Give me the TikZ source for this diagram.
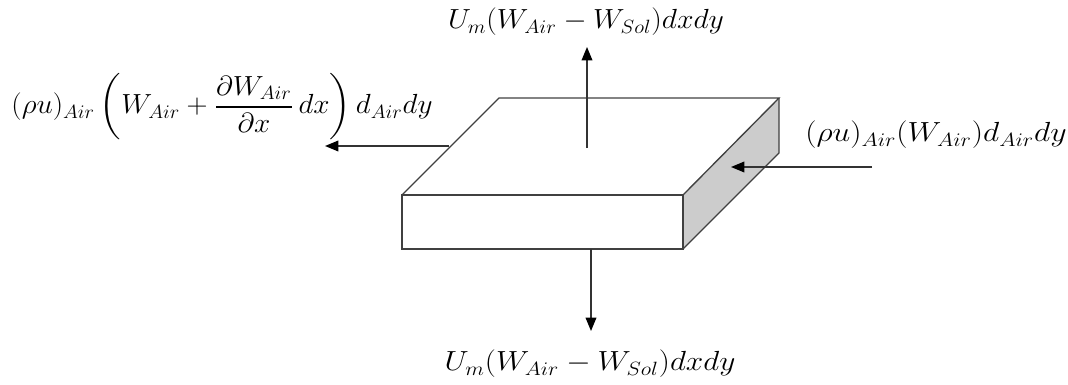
\documentclass[tikz,border=0pt]{standalone}
\usepackage{amsmath}
\usetikzlibrary{arrows.meta}
\tikzset{
 px/.style={x=0.75pt,y=-0.75pt},
 edge/.style={draw=black!75,line width=1pt,line join=miter},
 flow/.style={draw=black!80,line width=1pt,-{Stealth[length=10pt,width=8pt,inset=0pt,color=black]}},
 lab/.style={inner sep=0pt,transform shape,font=\fontsize{17.28}{20}\selectfont}
}
\begin{document}
\begin{tikzpicture}[px]
\useasboundingbox (0,0) rectangle (1068,385);
\coordinate (A) at (402,195);
\coordinate (B) at (683,195);
\coordinate (C) at (683,249);
\coordinate (D) at (402,249);
\coordinate (E) at (499,98);
\coordinate (F) at (779,98);
\coordinate (G) at (779,153);
\fill[black!20] (B)--(F)--(G)--(C)--cycle;
\draw[edge] (A)--(B)--(C)--(D)--cycle;
\draw[edge] (A)--(E)--(F)--(B);
\draw[edge] (F)--(G)--(C);
\node[lab,xscale=1.29,yscale=1.2] (top) at (586,22) {$U_m(W_{Air}-W_{Sol})dxdy$};
\node[lab,xscale=1.36,yscale=1.2] (bot) at (590,364) {$U_m(W_{Air}-W_{Sol})dxdy$};
\node[lab,xscale=1.38,yscale=1.2] (right) at (936,135) {$(\rho u)_{Air}(W_{Air})d_{Air}dy$};
\node[lab,xscale=1.265,yscale=1.2] (left) at (222,107) {$(\rho u)_{Air}\left(W_{Air}+\dfrac{\partial W_{Air}}{\partial x}\,dx\right)d_{Air}dy$};
\coordinate (t0) at (587,148); \coordinate (t1) at (587,47);
\coordinate (b0) at (591,249); \coordinate (b1) at (591,331);
\coordinate (r0) at (872,167); \coordinate (r1) at (731,167);
\coordinate (l0) at (449,146); \coordinate (l1) at (325,146);
\draw[flow] (t0)--(t1);
\draw[flow] (b0)--(b1);
\draw[flow] (r0)--(r1);
\draw[flow] (l0)--(l1);
\end{tikzpicture}
\end{document}
